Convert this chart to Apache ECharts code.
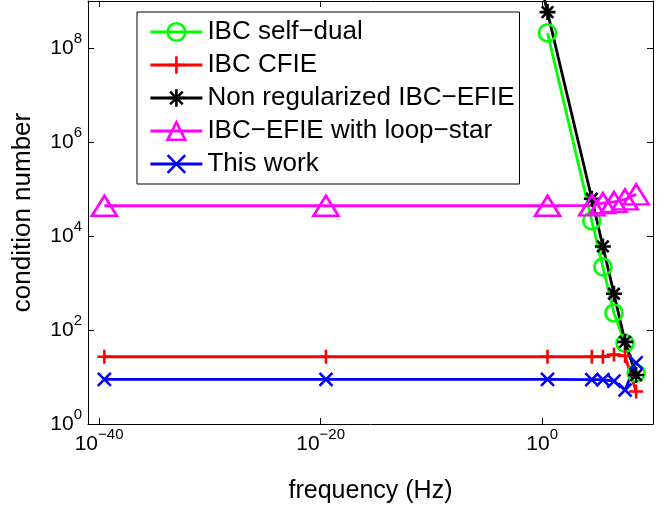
<!DOCTYPE html>
<html>
<head>
<meta charset="utf-8">
<script src="https://cdn.jsdelivr.net/npm/echarts@6/dist/echarts.min.js"></script>
<style>html,body{margin:0;padding:0;background:#fff}#c{width:670px;height:509px}</style>
</head>
<body>
<div id="c"></div>
<script>
// ---- data (frequency in Hz, condition number) ----
const seriesNames = ['IBC self\u2212dual', 'IBC CFIE', 'Non regularized IBC\u2212EFIE', 'IBC\u2212EFIE with loop\u2212star', 'This work'];
const freqAll = [3e-40, 3e-20, 3, 3e4, 3e5, 3e6, 3e7, 3e8];
const freqSelfDual = [3, 3e4, 3e5, 3e6, 3e7, 3e8];
const selfDual = [2.1e8, 2.1e4, 2.2e3, 2.3e2, 52, 12];
const freqNonReg = [3e-20, 3, 3e4, 3e5, 3e6, 3e7, 3e8];
const nonReg = [5.8e28, 5.8e8, 6.2e4, 6.0e3, 5.9e2, 56, 11];
const cfie = [27, 27, 27, 27, 27, 30, 28, 4.9];
const loopStar = [4.4e4, 4.4e4, 4.4e4, 4.5e4, 5.0e4, 5.3e4, 6.0e4, 7.7e4];
const thisWork = [8.9, 8.9, 8.9, 8.8, 8.8, 8.2, 5.3, 20];
const xTickExp = [-40, -20, 0];
const yTickExp = [0, 2, 4, 6, 8];

const FONT = 'Liberation Sans, Arial, Helvetica, sans-serif';
const toPts = (xs, ys) => xs.map((x, i) => [Math.log10(x), Math.log10(ys[i])]);
const supFmt = v => '{b|10}{s|' + String(Math.round(v)).replace('-', '\u2212') + '}';
const rich = {
  b: {fontSize: 21, fontFamily: FONT, color: '#000', lineHeight: 34, verticalAlign: 'middle'},
  s: {fontSize: 15, fontFamily: FONT, color: '#000', lineHeight: 34, verticalAlign: 'top'}
};
const PLUS = 'path://M0,-1L0,1M-1,0L1,0';
const CROSS = 'path://M-1,-1L1,1M-1,1L1,-1';
const STAR = 'path://M0,-1L0,1M-1,0L1,0M-0.72,-0.72L0.72,0.72M-0.72,0.72L0.72,-0.72';

function mk(name, pts, color, symbol, size) {
  return {
    name, type: 'line', data: pts, symbol, symbolSize: size, symbolKeepAspect: false,
    showAllSymbol: true, clip: true, animation: false,
    lineStyle: {color, width: 2.8},
    itemStyle: {color: 'transparent', borderColor: color, borderWidth: 2.6},
    emphasis: {disabled: true}
  };
}

const axX = (pos, show) => ({
  type: 'value', min: -41, max: 10, position: pos,
  axisLine: {show: true, onZero: false, lineStyle: {color: '#000', width: 1}},
  axisTick: {show: true, inside: true, length: 6, customValues: xTickExp, lineStyle: {color: '#000'}},
  axisLabel: {show: show, customValues: xTickExp, formatter: supFmt, rich, margin: 3},
  splitLine: {show: false},
  name: show ? 'frequency (Hz)' : '', nameLocation: 'middle', nameGap: 55,
  nameTextStyle: {fontSize: 25, fontFamily: FONT, color: '#000'}
});
const axY = (pos, show) => ({
  type: 'value', min: 0, max: 9, position: pos,
  axisLine: {show: true, onZero: false, lineStyle: {color: '#000', width: 1}},
  axisTick: {show: true, inside: true, length: 6, customValues: yTickExp, lineStyle: {color: '#000'}},
  axisLabel: {show: show, customValues: yTickExp, formatter: supFmt, rich, margin: 6},
  splitLine: {show: false},
  name: show ? 'condition number' : '', nameLocation: 'middle', nameGap: 52,
  nameTextStyle: {fontSize: 26, fontFamily: FONT, color: '#000'}
});

const chart = echarts.init(document.getElementById('c'), null, {renderer: 'canvas'});
chart.setOption({
  backgroundColor: '#fff',
  animation: false,
  grid: {left: 88, right: 17, top: 1, bottom: 73, containLabel: false},
  xAxis: [axX('bottom', true), axX('top', false)],
  yAxis: [axY('left', true), axY('right', false)],
  legend: {
    orient: 'vertical', left: 137, top: 12,
    backgroundColor: '#fff', borderColor: '#000', borderWidth: 1, borderRadius: 0,
    padding: [7, 5, 7, 12],
    itemWidth: 52, itemHeight: 22, itemGap: 7,
    textStyle: {fontSize: 26, fontFamily: FONT, color: '#000'},
    lineStyle: {width: 2.8},
    itemStyle: {borderWidth: 2.6},
    data: seriesNames
  },
  series: [
    mk(seriesNames[0], toPts(freqSelfDual, selfDual), '#00ff00', 'circle', 17),
    mk(seriesNames[1], toPts(freqAll, cfie), '#ff0000', PLUS, 14),
    mk(seriesNames[2], toPts(freqNonReg, nonReg), '#000000', STAR, 16),
    mk(seriesNames[3], toPts(freqAll, loopStar), '#ff00ff', 'triangle', [25, 20]),
    mk(seriesNames[4], toPts(freqAll, thisWork), '#0000ff', CROSS, 13)
  ]
});
</script>
</body>
</html>
